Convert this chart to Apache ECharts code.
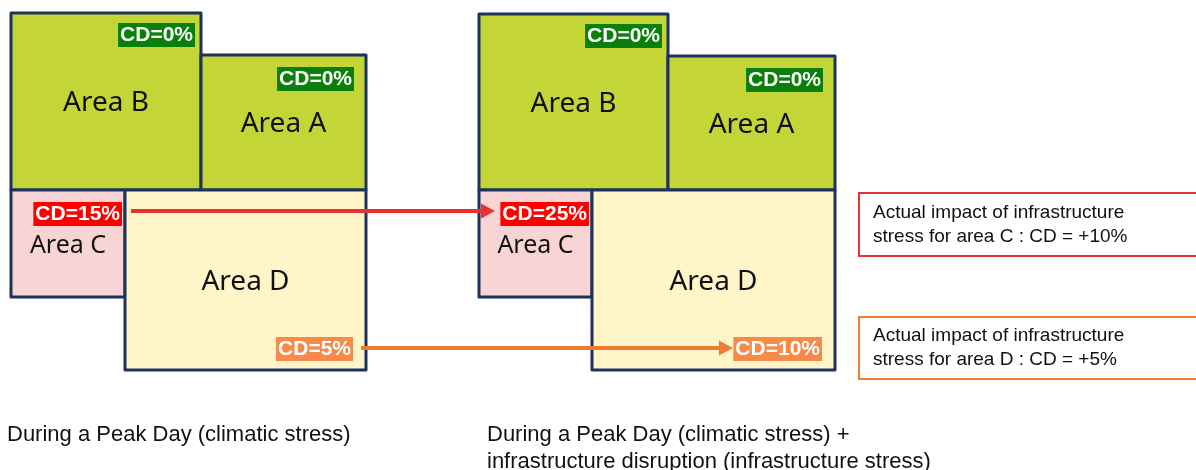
<!DOCTYPE html>
<html>
<head>
<meta charset="utf-8">
<title>Areas CD</title>
<script src="https://cdn.jsdelivr.net/npm/echarts@6/dist/echarts.min.js"></script>
<style>
    html, body { margin: 0; padding: 0; background: #fff; }
    #chart { width: 1196px; height: 470px; }
</style>
</head>
<body>
<div id="chart"></div>
<script>
    // data, in the chart's own units (hidden axes 0..1196 / 0..470)
    const areas = ['Area B', 'Area A', 'Area C', 'Area D'];
    const peakRects = [[11, 13, 201, 190], [201, 55, 366, 190], [11, 190, 125, 297], [125, 190, 366, 370]];
    const disruptedRects = [[479, 14, 668, 190], [668, 56, 835, 190], [479, 190, 592, 297], [592, 190, 835, 370]];
    const peakCD = [0, 0, 15, 5];
    const disruptedCD = [0, 0, 25, 10];
    const arrows = [[131, 211, 495, 211], [361, 348, 733, 348]];
    const impactBoxes = [[859, 193, 1210, 256], [859, 317, 1210, 379]];
    const impactTexts = [
        'Actual impact of infrastructure\nstress for area C : CD = +10%',
        'Actual impact of infrastructure\nstress for area D : CD = +5%'
    ];
    const captions = [
        'During a Peak Day (climatic stress)',
        'During a Peak Day (climatic stress) +\ninfrastructure disruption (infrastructure stress)'
    ];
    const captionAt = [[7, 421], [487, 421]];

    // styles
    const fills = ['#c4d538', '#c4d538', '#f9d4d4', '#fff5c9'];
    const badgeColors = ['#0a800a', '#0a800a', '#ff0000', '#f58a4a'];
    const arrowColors = ['#e8312f', '#ed7d31'];
    const impactColors = ['#e8313a', '#ed7d31'];
    const areaFonts = ['28px "Noto Sans"', '28px "Noto Sans"', '25px "Noto Sans"', '28px "Noto Sans"'];
    // badge offset from the right edge, and from top (or bottom for Area D)
    const badgeOffset = [[-6, 10], [-12, 12], [-3, 12], [-13, -9]];

    const rectData = [];
    peakRects.forEach((r, i) => rectData.push(r.concat([i, peakCD[i]])));
    disruptedRects.forEach((r, i) => rectData.push(r.concat([i, disruptedCD[i]])));

    let myChart = echarts.init(document.getElementById('chart'));
    myChart.setOption({
        animation: false,
        grid: { left: 0, right: 0, top: 0, bottom: 0 },
        xAxis: { type: 'value', min: 0, max: 1196, show: false },
        yAxis: { type: 'value', min: 0, max: 470, inverse: true, show: false },
        series: [
            {
                // area boxes with their CD badges
                type: 'custom',
                data: rectData,
                clip: false,
                renderItem: function (params, api) {
                    const p0 = api.coord([api.value(0), api.value(1)]);
                    const p1 = api.coord([api.value(2), api.value(3)]);
                    const i = api.value(4);
                    const off = badgeOffset[i];
                    const by = off[1] > 0 ? p0[1] + off[1] : p1[1] + off[1];
                    return {
                        type: 'group',
                        children: [
                            {
                                type: 'rect',
                                shape: { x: p0[0], y: p0[1], width: p1[0] - p0[0], height: p1[1] - p0[1] },
                                style: { fill: fills[i], stroke: '#1c335f', lineWidth: 3, lineJoin: 'round' }
                            },
                            {
                                type: 'text',
                                style: {
                                    text: areas[i],
                                    x: (p0[0] + p1[0]) / 2,
                                    y: (p0[1] + p1[1]) / 2 + 2,
                                    align: 'center',
                                    verticalAlign: 'middle',
                                    font: areaFonts[i],
                                    fill: '#111'
                                }
                            },
                            {
                                type: 'text',
                                z2: 10,
                                style: {
                                    text: 'CD=' + api.value(5) + '%',
                                    x: p1[0] + off[0],
                                    y: by,
                                    align: 'right',
                                    verticalAlign: off[1] > 0 ? 'top' : 'bottom',
                                    font: 'bold 21px "Liberation Sans", Arial',
                                    fill: '#fff',
                                    backgroundColor: badgeColors[i],
                                    padding: [2, 2, 1, 2]
                                }
                            }
                        ]
                    };
                }
            },
            {
                // arrows
                type: 'custom',
                data: arrows,
                clip: false,
                z: 5,
                renderItem: function (params, api) {
                    const a = api.coord([api.value(0), api.value(1)]);
                    const b = api.coord([api.value(2), api.value(3)]);
                    const c = arrowColors[params.dataIndex];
                    const len = 14, half = 7.5;
                    return {
                        type: 'group',
                        children: [
                            {
                                type: 'line',
                                shape: { x1: a[0], y1: a[1], x2: b[0] - len + 1, y2: b[1] },
                                style: { stroke: c, lineWidth: 4 }
                            },
                            {
                                type: 'polygon',
                                shape: { points: [[b[0], b[1]], [b[0] - len, b[1] - half], [b[0] - len, b[1] + half]] },
                                style: { fill: c }
                            }
                        ]
                    };
                }
            },
            {
                // impact boxes
                type: 'custom',
                data: impactBoxes,
                clip: false,
                renderItem: function (params, api) {
                    const p0 = api.coord([api.value(0), api.value(1)]);
                    const p1 = api.coord([api.value(2), api.value(3)]);
                    return {
                        type: 'group',
                        children: [
                            {
                                type: 'rect',
                                shape: { x: p0[0], y: p0[1], width: p1[0] - p0[0], height: p1[1] - p0[1] },
                                style: { fill: '#fff', stroke: impactColors[params.dataIndex], lineWidth: 2 }
                            },
                            {
                                type: 'text',
                                style: {
                                    text: impactTexts[params.dataIndex],
                                    x: p0[0] + 14,
                                    y: (p0[1] + p1[1]) / 2,
                                    verticalAlign: 'middle',
                                    font: '19px "Liberation Sans", Arial',
                                    lineHeight: 24,
                                    fill: '#111'
                                }
                            }
                        ]
                    };
                }
            },
            {
                // captions under the two panels
                type: 'custom',
                data: captionAt,
                clip: false,
                renderItem: function (params, api) {
                    const p = api.coord([api.value(0), api.value(1)]);
                    return {
                        type: 'text',
                        style: {
                            text: captions[params.dataIndex],
                            x: p[0],
                            y: p[1],
                            verticalAlign: 'top',
                            font: '22px "Liberation Sans", Arial',
                            lineHeight: 27,
                            fill: '#111'
                        }
                    };
                }
            }
        ]
    });
</script>
</body>
</html>
